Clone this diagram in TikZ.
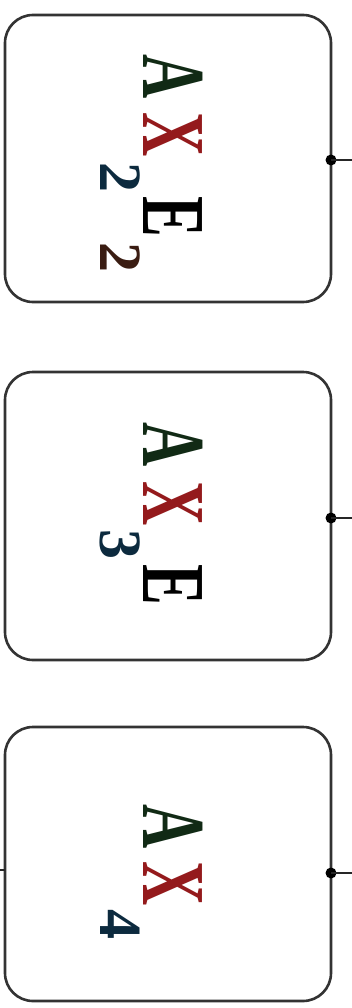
\documentclass[tikz,border=0pt]{standalone}
\usepackage{fontspec}
\setmainfont{Liberation Serif}
\definecolor{agreen}{HTML}{112A15}
\definecolor{xred}{HTML}{941A1C}
\definecolor{subblue}{HTML}{0C2A3E}
\definecolor{subbrown}{HTML}{3A1C12}
\definecolor{edge}{HTML}{333333}
% main letter, narrowed along the reading direction
\newcommand\mainlet[2]{\textcolor{#1}{\scalebox{0.68}[1]{#2}}}
% subscript digit, dropped fully below the baseline
\newcommand\subdig[2]{\raisebox{-43pt}{\fontsize{60}{60}\selectfont\textcolor{#1}{#2}}}
\tikzset{
  box/.style={draw=edge, line width=2.6pt, rounded corners=28pt, fill=white},
  formula/.style={rotate=-90, anchor=base west, inner sep=0pt,
    font=\fontsize{90}{90}\selectfont\bfseries},
  link/.style={draw=black!85, line width=2.4pt},
  pin/.style={circle, fill=black, inner sep=0pt, minimum size=11pt}
}
\begin{document}
\begin{tikzpicture}[x=1pt, y=-1pt]
  \useasboundingbox (0,0) rectangle (352,1008);
  \fill[white] (0,0) rectangle (352,1008);

  % boxes
  \draw[box] (5,15) rectangle (331,302);
  \draw[box] (5,372) rectangle (331,660);
  \draw[box] (5,727) rectangle (331,1001);

  % formulas
  \node[formula] (t1) at (143,54.4) {\mainlet{agreen}{A}\hspace{13.4pt}\mainlet{xred}{X}\hspace{6.3pt}\subdig{subblue}{2}\hspace{3.5pt}\mainlet{black}{E}\hspace{5.7pt}\subdig{subbrown}{2}};
  \node[formula] (t2) at (143,422.4) {\mainlet{agreen}{A}\hspace{14.4pt}\mainlet{xred}{X}\hspace{3.8pt}\subdig{subblue}{3}\hspace{5pt}\mainlet{black}{E}};
  \node[formula] (t3) at (143,804.4) {\mainlet{agreen}{A}\hspace{12.4pt}\mainlet{xred}{X}\hspace{3.8pt}\subdig{subblue}{4}};

  % output pins on the right edges
  \node[pin] (p1) at (331,160) {};
  \node[pin] (p2) at (331,518) {};
  \node[pin] (p3) at (331,873) {};
  \coordinate (e1) at (352,160);
  \coordinate (e2) at (352,518);
  \coordinate (e3) at (352,873);
  \draw[link] (p1.center) -- (e1);
  \draw[link] (p2.center) -- (e2);
  \draw[link] (p3.center) -- (e3);

  % input stub on the left of the last box
  \coordinate (s3) at (5,870);
  \coordinate (w3) at (0,870);
  \draw[link] (s3) -- (w3);
\end{tikzpicture}
\end{document}
